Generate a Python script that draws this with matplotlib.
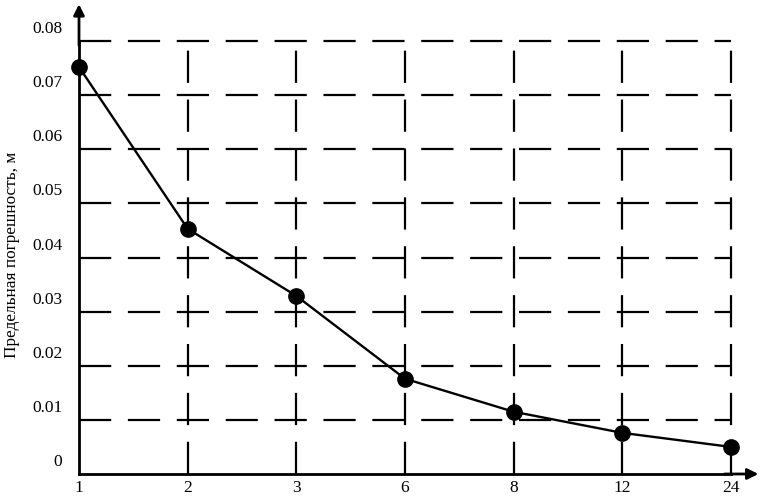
import matplotlib
matplotlib.use("Agg")
import matplotlib.pyplot as plt
import matplotlib.transforms as mtransforms

# data
periods = ["1", "2", "3", "6", "8", "12", "24"]
error_m = [0.0752, 0.0453, 0.0329, 0.0176, 0.0115, 0.0076, 0.0050]
y_ticks = [0, 0.01, 0.02, 0.03, 0.04, 0.05, 0.06, 0.07, 0.08]
y_ticklabels = ["0", "0.01", "0.02", "0.03", "0.04", "0.05", "0.06", "0.07", "0.08"]

plt.rcParams["font.family"] = ["Liberation Serif", "DejaVu Serif"]

fig = plt.figure(figsize=(7.59, 4.96), dpi=100)
ax = fig.add_axes([79 / 759, 22 / 496, 652 / 759, 433 / 496])

xs = list(range(len(periods)))
ax.set_xlim(0, len(periods) - 1)
ax.set_ylim(0, 0.08)

# dashed grid (dash lengths are scaled by linewidth)
for y in y_ticks[1:]:
    ax.plot([0, len(periods) - 1], [y, y], color="black", lw=1.6,
            dashes=(14.5, 7.5), zorder=1, clip_on=False)
for x in xs[1:]:
    ax.plot([x, x], [0, 0.08], color="black", lw=1.6,
            dashes=(14.5, 7.5), zorder=1, clip_on=False)

ax.plot(xs, error_m, color="black", lw=1.7, marker="o", markersize=11,
        zorder=3, clip_on=False)

for side in ["top", "right"]:
    ax.spines[side].set_visible(False)
for side in ["left", "bottom"]:
    ax.spines[side].set_linewidth(2)

# axis arrows
ax.annotate("", xy=(0, 1.085), xytext=(0, 0.99), xycoords="axes fraction",
            arrowprops=dict(arrowstyle="-|>", color="black", lw=2,
                            mutation_scale=16, shrinkA=0, shrinkB=0))
ax.annotate("", xy=(1.042, 0), xytext=(0.99, 0), xycoords="axes fraction",
            arrowprops=dict(arrowstyle="-|>", color="black", lw=2,
                            mutation_scale=16, shrinkA=0, shrinkB=0))

ax.set_xticks(xs)
ax.set_xticklabels(periods, fontsize=12.5)
ax.set_yticks(y_ticks)
ax.set_yticklabels(y_ticklabels, fontsize=12.5)
ax.tick_params(length=0)
ax.tick_params(axis="x", pad=4)
ax.tick_params(axis="y", pad=12)

# y tick labels sit above their grid lines
shift = mtransforms.ScaledTranslation(0, 14 / 100, fig.dpi_scale_trans)
for lbl in ax.get_yticklabels():
    lbl.set_transform(lbl.get_transform() + shift)

ax.set_ylabel("Предельная погрешность, м", fontsize=12.4)
ax.yaxis.set_label_coords(-0.09, 0.506)

fig.savefig("out.png", dpi=100)
